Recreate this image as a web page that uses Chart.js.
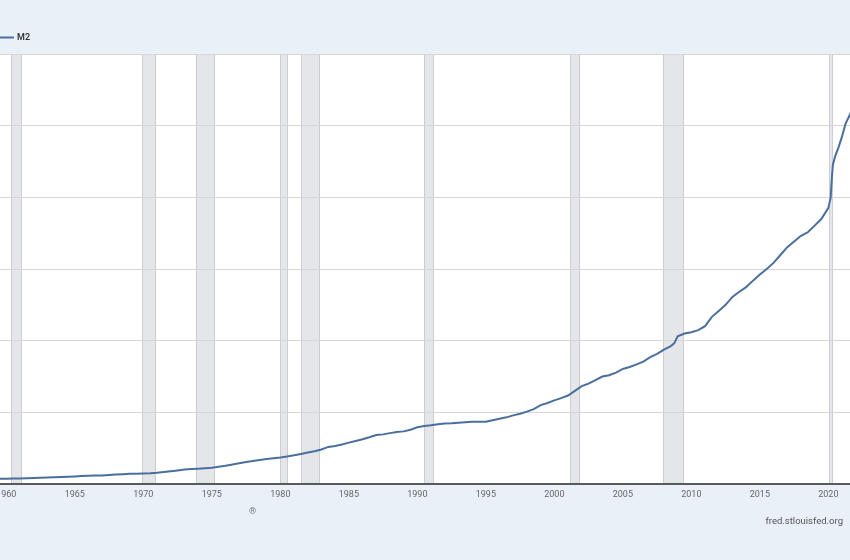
<!DOCTYPE html>
<html>
<head>
<meta charset="utf-8">
<script src="https://cdn.jsdelivr.net/npm/chart.js@4/dist/chart.umd.min.js"></script>
<style>
  html, body { margin: 0; padding: 0; background: #e9f0f8; }
  #wrap { position: relative; width: 850px; height: 560px; overflow: hidden; }
  .note { position: absolute; font-family: Roboto, "Open Sans", sans-serif; color: #555; white-space: nowrap; }
  #reg { left: 249px; top: 506px; font-size: 9px; color: #777; }
  #src { right: 7px; top: 515px; font-size: 9.5px; }
</style>
</head>
<body>
<div id="wrap">
  <canvas id="chart"></canvas>
  <div class="note" id="reg">®</div>
  <div class="note" id="src">fred.stlouisfed.org</div>
</div>
<script>
// M2 money stock, billions of dollars
const dates = [
  1959.0, 1959.5, 1960.0, 1960.5, 1961.0, 1961.5, 1962.0, 1962.5, 1963.0, 1963.5,
  1964.0, 1964.5, 1965.0, 1965.5, 1966.0, 1966.5, 1967.0, 1967.5, 1968.0, 1968.5,
  1969.0, 1969.5, 1970.0, 1970.5, 1971.0, 1971.5, 1972.0, 1972.5, 1973.0, 1973.5,
  1974.0, 1974.5, 1975.0, 1975.5, 1976.0, 1976.5, 1977.0, 1977.5, 1978.0, 1978.5,
  1979.0, 1979.5, 1980.0, 1980.5, 1981.0, 1981.5, 1982.0, 1982.5, 1983.0, 1983.5,
  1984.0, 1984.5, 1985.0, 1985.5, 1986.0, 1986.5, 1987.0, 1987.5, 1988.0, 1988.5,
  1989.0, 1989.5, 1990.0, 1990.5, 1991.0, 1991.5, 1992.0, 1992.5, 1993.0, 1993.5,
  1994.0, 1994.5, 1995.0, 1995.5, 1996.0, 1996.5, 1997.0, 1997.5, 1998.0, 1998.5,
  1999.0, 1999.5, 2000.0, 2000.5, 2001.0, 2001.5, 2002.0, 2002.5, 2003.0, 2003.5,
  2004.0, 2004.5, 2005.0, 2005.5, 2006.0, 2006.5, 2007.0, 2007.5, 2008.0, 2008.5,
  2008.75, 2009.0, 2009.5, 2010.0, 2010.5, 2011.0, 2011.5, 2012.0, 2012.5, 2013.0,
  2013.5, 2014.0, 2014.5, 2015.0, 2015.5, 2016.0, 2016.5, 2017.0, 2017.5, 2018.0,
  2018.5, 2019.0, 2019.5, 2020.0, 2020.17, 2020.25, 2020.33, 2020.5, 2020.75, 2021.0,
  2021.25, 2021.5, 2021.75
];
const m2 = [
  287, 297, 298, 304, 313, 324, 335, 347, 363, 377,
  393, 408, 425, 441, 460, 469, 481, 503, 525, 544,
  567, 577, 589, 601, 628, 673, 711, 756, 803, 831,
  856, 880, 909, 968, 1023, 1088, 1163, 1226, 1287, 1340,
  1389, 1437, 1479, 1537, 1600, 1680, 1756, 1830, 1930, 2070,
  2125, 2200, 2310, 2400, 2500, 2610, 2734, 2770, 2840, 2900,
  2937, 3030, 3166, 3240, 3280, 3340, 3380, 3390, 3425, 3450,
  3475, 3480, 3480, 3560, 3640, 3720, 3830, 3920, 4040, 4180,
  4400, 4520, 4670, 4790, 4940, 5200, 5460, 5600, 5800, 6000,
  6070, 6220, 6420, 6530, 6680, 6830, 7080, 7260, 7500, 7700,
  7850, 8240, 8400, 8470, 8590, 8810, 9330, 9660, 10000, 10440,
  10730, 10990, 11350, 11690, 12000, 12340, 12780, 13220, 13530, 13850,
  14050, 14420, 14800, 15410, 15990, 17010, 17820, 18300, 18800, 19400,
  20100, 20500, 20900
];
// NBER recessions (shaded bands), decimal years
const recStart = [1960.33, 1969.92, 1973.83, 1980.0, 1981.5, 1990.5, 2001.17, 2007.92, 2020.08];
const recEnd   = [1961.08, 1970.83, 1975.17, 1980.5, 1982.83, 1991.17, 2001.83, 2009.42, 2020.25];

const lineColor = '#4a6f9e';

const bgPlugin = {
  id: 'bands',
  beforeDraw(chart) {
    const { ctx, chartArea: a, scales: { x } } = chart;
    ctx.save();
    ctx.fillStyle = '#ffffff';
    ctx.fillRect(a.left, a.top, a.right - a.left, a.bottom - a.top);
    recStart.forEach((s, i) => {
      const x0 = Math.round(x.getPixelForValue(s)) + 0.5;
      const x1 = Math.round(x.getPixelForValue(recEnd[i])) + 0.5;
      ctx.fillStyle = '#e5e6ea';
      ctx.fillRect(x0, a.top, x1 - x0, a.bottom - a.top);
      ctx.strokeStyle = '#cdcdd0';
      ctx.lineWidth = 1;
      ctx.beginPath();
      ctx.moveTo(x0, a.top); ctx.lineTo(x0, a.bottom);
      ctx.moveTo(x1, a.top); ctx.lineTo(x1, a.bottom);
      ctx.stroke();
    });
    ctx.restore();
  },
  afterDraw(chart) {
    // legend, left part is cut off like in the source
    const { ctx } = chart;
    const ds = chart.data.datasets[0];
    ctx.save();
    ctx.strokeStyle = ds.borderColor;
    ctx.lineWidth = 2;
    ctx.beginPath();
    ctx.moveTo(-2, 37.5); ctx.lineTo(14, 37.5);
    ctx.stroke();
    ctx.fillStyle = '#333';
    ctx.font = '600 9px Roboto, sans-serif';
    ctx.textBaseline = 'middle';
    ctx.fillText(ds.label, 17, 38);
    ctx.restore();
  }
};

new Chart(document.getElementById('chart'), {
  type: 'line',
  data: {
    datasets: [{
      label: 'M2',
      data: dates.map((d, i) => ({ x: d, y: m2[i] })),
      borderColor: lineColor,
      borderWidth: 2,
      pointRadius: 0,
      tension: 0
    }]
  },
  options: {
    responsive: true,
    maintainAspectRatio: false,
    animation: false,
    layout: { padding: { top: 54, left: 0, right: 0, bottom: 0 } },
    plugins: { legend: { display: false }, tooltip: { enabled: false } },
    scales: {
      x: {
        type: 'linear',
        min: 1959.54,
        max: 2021.58,
        grid: { display: false, drawTicks: false },
        border: { color: '#5a5a5a', width: 2 },
        ticks: {
          stepSize: 5,
          includeBounds: false,
          autoSkip: false,
          maxRotation: 0,
          padding: 5,
          color: '#666',
          font: { family: 'Roboto, sans-serif', size: 9 },
          callback: v => String(v)
        },
        afterFit(s) { s.height = 76; s.paddingLeft = 0; s.paddingRight = 0; }
      },
      y: {
        min: 0,
        max: 24000,
        ticks: { display: false, stepSize: 4000 },
        grid: { color: '#d6d6d6', lineWidth: 1, drawTicks: false },
        border: { display: false },
        afterFit(s) { s.width = 0; }
      }
    }
  },
  plugins: [bgPlugin]
});
</script>
</body>
</html>
